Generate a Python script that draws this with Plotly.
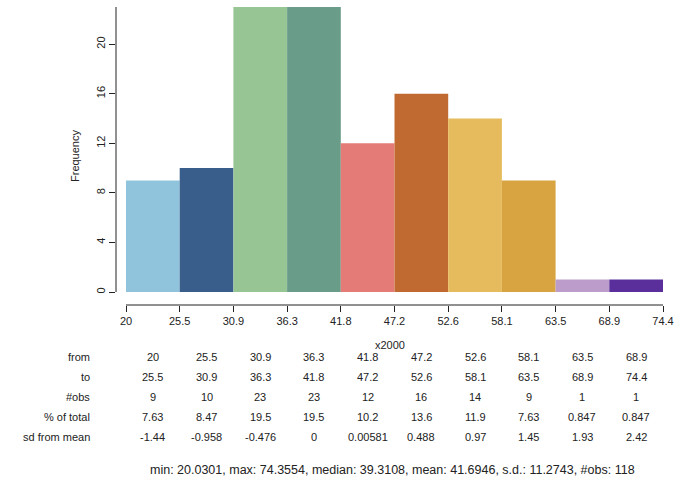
import plotly.graph_objects as go

# ---- data ----
edges = [20.0301, 25.4626, 30.8952, 36.3278, 41.7603, 47.1929,
         52.6254, 58.0580, 63.4905, 68.9229, 74.3554]
edge_labels = ["20", "25.5", "30.9", "36.3", "41.8", "47.2", "52.6", "58.1", "63.5", "68.9", "74.4"]
counts = [9, 10, 23, 23, 12, 16, 14, 9, 1, 1]
from_labels = ["20", "25.5", "30.9", "36.3", "41.8", "47.2", "52.6", "58.1", "63.5", "68.9"]
to_labels = ["25.5", "30.9", "36.3", "41.8", "47.2", "52.6", "58.1", "63.5", "68.9", "74.4"]
obs_labels = ["9", "10", "23", "23", "12", "16", "14", "9", "1", "1"]
pct_labels = ["7.63", "8.47", "19.5", "19.5", "10.2", "13.6", "11.9", "7.63", "0.847", "0.847"]
sd_labels = ["-1.44", "-0.958", "-0.476", "0", "0.00581", "0.488", "0.97", "1.45", "1.93", "2.42"]
row_names = ["from", "to", "#obs", "% of total", "sd from mean"]
y_ticks = [0, 4, 8, 12, 16, 20]
bar_colors = ["#90c3dc", "#3a5e8c", "#97c593", "#699c89", "#e57b76",
              "#c06a32", "#e6bb5e", "#d8a441", "#bb9ccb", "#5a2f9c"]
summary = "min: 20.0301, max: 74.3554, median: 39.3108, mean: 41.6946, s.d.: 11.2743, #obs: 118"
x_name = "x2000"

# ---- layout geometry (pixels) ----
W, H = 675, 484
L, R, T, B = 116, 663, 7, 305   # plot area
bar_left_px = 126
ymax = 23
y0_px = 292

px_per_x = (R - bar_left_px) / (edges[-1] - edges[0])
x_lo = edges[0] - (bar_left_px - L) / px_per_x
px_per_y = (y0_px - T) / ymax
y_lo = -(B - y0_px) / px_per_y

def pxx(x):
    return (x - L) / (R - L)

def pxy(y):
    return (B - y) / (B - T)

centers = [(a + b) / 2 for a, b in zip(edges[:-1], edges[1:])]
widths = [b - a for a, b in zip(edges[:-1], edges[1:])]

fig = go.Figure()
fig.add_trace(go.Bar(x=centers, y=counts, width=widths,
                     marker=dict(color=bar_colors, line=dict(width=0)),
                     hoverinfo="x+y"))

font = dict(family="Liberation Sans, Arial, sans-serif", size=11, color="#222222")
table_font = dict(family="Liberation Sans, Arial, sans-serif", size=11, color="#222222")
sum_font = dict(family="Liberation Sans, Arial, sans-serif", size=12.5, color="#222222")

fig.update_layout(
    template="none",
    width=W, height=H, autosize=False,
    margin=dict(l=L, r=W - R, t=T, b=H - B, pad=0),
    plot_bgcolor="white", paper_bgcolor="white",
    showlegend=False, font=font,
    xaxis=dict(range=[x_lo, edges[-1]], showgrid=False, zeroline=False, showline=False,
               automargin=False,
               tickmode="array", tickvals=edges, ticktext=edge_labels,
               ticks="outside", ticklen=6, tickwidth=1, tickcolor="#222",
               tickfont=font),
    yaxis=dict(range=[y_lo, ymax], showgrid=False, zeroline=False, showline=False,
               automargin=False,
               tickmode="array", tickvals=y_ticks, ticks="outside", ticklen=6,
               tickwidth=1, tickcolor="#222", tickangle=-90, tickfont=font,
               title=dict(text="Frequency", font=font, standoff=12)),
)

# axis lines (R style, detached)
fig.add_shape(type="line", xref="x", yref="paper", x0=edges[0], x1=edges[-1], y0=0, y1=0,
              line=dict(color="#222", width=1))
fig.add_shape(type="line", xref="paper", yref="y", x0=0, x1=0, y0=0, y1=ymax,
              line=dict(color="#222", width=1))

# x label
fig.add_annotation(text=x_name, xref="paper", yref="paper", x=0.5, y=pxy(345),
                   showarrow=False, font=font, xanchor="center", yanchor="middle")

# table: one column under each bin
rows = [from_labels, to_labels, obs_labels, pct_labels, sd_labels]
row_y = [357, 377, 397, 417, 437]
for name, vals, yy in zip(row_names, rows, row_y):
    fig.add_annotation(text=name, xref="paper", yref="paper", x=pxx(92), y=pxy(yy),
                       showarrow=False, font=table_font, xanchor="right", yanchor="middle")
    for c, v in zip(centers, vals):
        fig.add_annotation(text=v, xref="x", yref="paper", x=c,
                           y=pxy(yy), showarrow=False, font=table_font,
                           xanchor="center", yanchor="middle")

fig.add_annotation(text=summary, xref="paper", yref="paper", x=pxx(393), y=pxy(470),
                   showarrow=False, font=sum_font, xanchor="center", yanchor="middle")

fig.write_html("out.html", config={"displayModeBar": False, "responsive": False},
               post_script="document.body.style.margin='0';document.body.style.overflow='hidden';")
